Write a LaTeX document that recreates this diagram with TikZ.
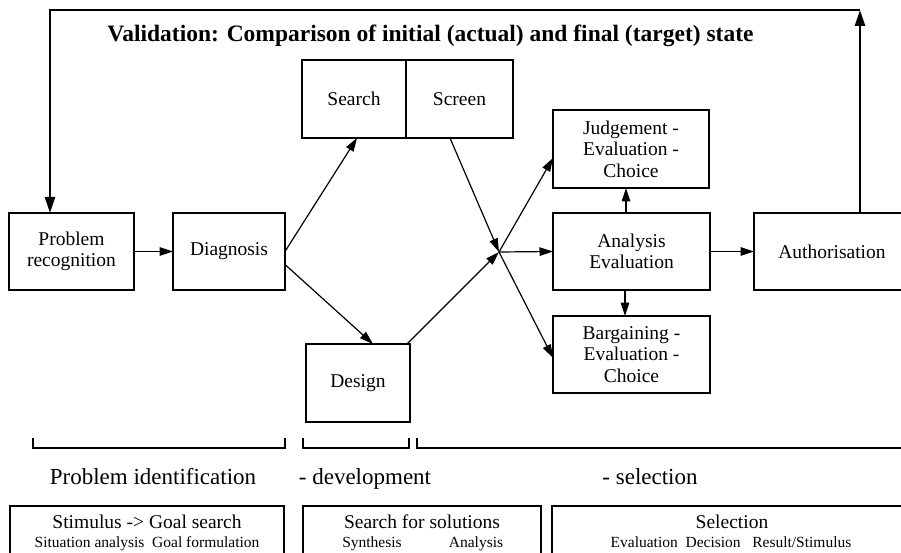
\documentclass[tikz,border=0pt]{standalone}
\usepackage{fontspec}
\setmainfont{Liberation Serif}
\usetikzlibrary{arrows.meta}
\newcommand\bxfont{\fontsize{19.5}{21.5}\selectfont}
\newcommand\smfont{\fontsize{15.5}{17}\selectfont}
\newcommand\phfont{\fontsize{23}{25}\selectfont}
\begin{document}
\begin{tikzpicture}[x=1pt,y=-1pt,
  stagebox/.style={draw, line width=1.4pt, rectangle, inner sep=0pt, outer sep=0pt,
    align=center, font=\bxfont},
  phasebox/.style={draw, line width=1.4pt, rectangle, inner sep=0pt, outer sep=0pt},
  txt/.style={inner sep=0pt, outer sep=0pt, anchor=base},
  conn/.style={line width=1.2pt, -{Triangle[length=13.5pt,width=8.5pt]}},
  fbarrow/.style={line width=2.6pt, -{Triangle[length=16pt,width=10pt]}},
  brace/.style={line width=1.3pt}
]
\useasboundingbox (0,0) rectangle (901,553);

% title of the feedback loop
\node[txt, font=\bfseries\fontsize{23.5}{26}\selectfont] (title) at (430.5,42)
  {Validation: Comparison of initial (actual) and final (target) state};

% process stages
\node[stagebox, minimum width=125pt, minimum height=77pt] (pr) at (71.5,251.5) {Problem\\recognition};
\node[stagebox, minimum width=112pt, minimum height=77pt] (diag) at (229,251.5) {Diagnosis};
\node[stagebox, minimum width=104pt, minimum height=78pt] (search) at (354,99) {Search};
\node[stagebox, minimum width=107pt, minimum height=78pt] (screen) at (459.5,99) {Screen};
\node[stagebox, minimum width=104pt, minimum height=78pt] (design) at (358,383) {Design};
\node[stagebox, minimum width=156pt, minimum height=78pt] (judge) at (631,149) {Judgement -\\Evaluation -\\Choice};
\node[stagebox, minimum width=157pt, minimum height=77pt] (anal) at (631.5,251.5) {Analysis\\Evaluation};
\node[stagebox, minimum width=157pt, minimum height=77pt] (barg) at (631.5,354.5) {Bargaining -\\Evaluation -\\Choice};
\node[stagebox, minimum width=156pt, minimum height=77pt] (auth) at (832,251.5) {Authorisation};

% junction where the alternatives meet
\coordinate (hub) at (499,252);
\coordinate (fbtop) at (860,10);
\coordinate (fbleft) at (50,10);

% connectors
\draw[conn] (pr.east) -- (diag.west);
\draw[conn] (diag.east) -- ([xshift=3pt]search.south);
\draw[conn] ([yshift=-13pt]diag.east) -- ([xshift=15pt]design.north);
\draw[conn] ([xshift=-9.5pt]screen.south) -- (hub);
\draw[conn] ([xshift=-3pt]design.north east) -- (hub);
\draw[conn] (hub) -- ([yshift=-9pt]judge.west);
\draw[conn] (hub) -- (anal.west);
\draw[conn] (hub) -- ([yshift=-3.5pt]barg.west);
\draw[conn] ([xshift=-5.5pt]anal.north) -- ([xshift=-5pt]judge.south);
\draw[conn] ([xshift=-6.5pt]anal.south) -- ([xshift=-6.5pt]barg.north);
\draw[conn] (anal.east) -- (auth.west);

% validation feedback loop
\draw[fbarrow] ([xshift=28pt]auth.north) -- (fbtop);
\draw[fbarrow] (fbtop) -- (fbleft) -- ([xshift=-21.5pt]pr.north);

% phase brackets
\draw[brace] (33,438) -- (33,448) -- (285,448) -- (285,438);
\draw[brace] (303,438) -- (303,448) -- (409,448) -- (409,438);
\draw[brace] (417,438) -- (417,448) -- (905,448);

% phase labels
\node[txt, font=\phfont] (ph1) at (153,484) {Problem identification};
\node[txt, font=\phfont] (ph2) at (365,484) {- development};
\node[txt, font=\phfont] (ph3) at (650,484) {- selection};

% phase summary boxes
\node[phasebox, anchor=north west, minimum width=274pt, minimum height=60pt] (b1) at (10,506) {};
\node[phasebox, anchor=north west, minimum width=238pt, minimum height=60pt] (b2) at (303,506) {};
\node[phasebox, anchor=north west, minimum width=360pt, minimum height=60pt] (b3) at (552,506) {};

\node[txt, font=\bxfont] (b1a) at (147,528) {Stimulus -> Goal search};
\node[txt, font=\smfont] (b1b) at (147,547) {Situation analysis~~Goal formulation};
\node[txt, font=\bxfont] (b2a) at (422,528) {Search for solutions};
\node[txt, font=\smfont] (b2b) at (372,547) {Synthesis};
\node[txt, font=\smfont] (b2c) at (476,547) {Analysis};
\node[txt, font=\bxfont] (b3a) at (732,528) {Selection};
\node[txt, font=\smfont] (b3b) at (731,547) {Evaluation~~Decision~~~Result/Stimulus};
\end{tikzpicture}
\end{document}
